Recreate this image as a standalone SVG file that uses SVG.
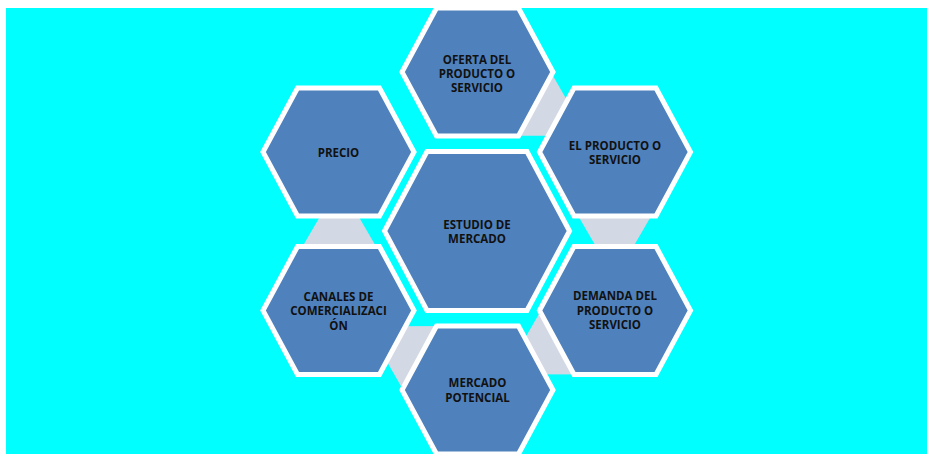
<svg xmlns="http://www.w3.org/2000/svg" xmlns:xlink="http://www.w3.org/1999/xlink" width="934" height="454" viewBox="0 0 934 454">
  <style>
    .hex { fill: #4F81BD; stroke: #FFFFFF; stroke-width: 5; stroke-linejoin: miter; }
    .link { fill: #D3D8E5; stroke: none; }
    .label { font-family: "Open Sans", "Liberation Sans", sans-serif; font-weight: bold; font-size: 11.5px; fill: #111111; text-anchor: middle; }
  </style>
  <defs>
    <!-- flat-top hexagons centred on the origin -->
    <path id="hexSmall" d="M-75.5,0 L-41,-64 L41,-64 L75.5,0 L41,64 L-41,64 Z"/>
    <path id="hexLarge" d="M-92.5,0 L-50,-79.5 L50,-79.5 L92.5,0 L50,79.5 L-50,79.5 Z"/>
  </defs>

  <!-- page and backdrop -->
  <rect x="0" y="0" width="934" height="454" fill="#FFFFFF"/>
  <rect x="6" y="8" width="921" height="446" fill="#00FFFF"/>

  <!-- tapered links between neighbouring hexagons -->
  <g id="connectors">
    <polygon class="link" points="542.75,58.1 577.3,118.3 567.3,135.7 497.85,135.9"/>
    <polygon class="link" points="569.8,201.5 659.6,201.5 624.7,261.5 604.7,261.5"/>
    <polygon class="link" points="548.95,296.6 514.4,356.8 524.4,374.2 593.85,374.4"/>
    <polygon class="link" points="456.15,326.1 386.7,326.3 376.7,343.7 411.25,403.9"/>
    <polygon class="link" points="294.4,260.5 384.2,260.5 349.3,200.5 329.3,200.5"/>
  </g>

  <g id="estudio-de-mercado">
    <use xlink:href="#hexLarge" class="hex" x="477" y="231"/>
    <text class="label" x="477" y="229">ESTUDIO DE</text>
    <text class="label" x="477" y="243">MERCADO</text>
  </g>

  <g id="oferta">
    <use xlink:href="#hexSmall" class="hex" x="477.5" y="72"/>
    <text class="label" x="477" y="64">OFERTA DEL</text>
    <text class="label" x="477" y="78">PRODUCTO O</text>
    <text class="label" x="477" y="92">SERVICIO</text>
  </g>

  <g id="producto">
    <use xlink:href="#hexSmall" class="hex" x="615" y="152"/>
    <text class="label" x="615" y="150">EL PRODUCTO O</text>
    <text class="label" x="615" y="164">SERVICIO</text>
  </g>

  <g id="demanda">
    <use xlink:href="#hexSmall" class="hex" x="615" y="310.5"/>
    <text class="label" x="615" y="300">DEMANDA DEL</text>
    <text class="label" x="615" y="314.5">PRODUCTO O</text>
    <text class="label" x="615" y="329">SERVICIO</text>
  </g>

  <g id="mercado-potencial">
    <use xlink:href="#hexSmall" class="hex" x="477.5" y="390"/>
    <text class="label" x="477.5" y="387">MERCADO</text>
    <text class="label" x="477.5" y="401.5">POTENCIAL</text>
  </g>

  <g id="canales">
    <use xlink:href="#hexSmall" class="hex" x="338.5" y="310.5"/>
    <text class="label" x="338.5" y="301">CANALES DE</text>
    <text class="label" x="338.5" y="315">COMERCIALIZACI</text>
    <text class="label" x="338.5" y="329.5">ÓN</text>
  </g>

  <g id="precio">
    <use xlink:href="#hexSmall" class="hex" x="338.5" y="152"/>
    <text class="label" x="338.5" y="156.5">PRECIO</text>
  </g>
</svg>
